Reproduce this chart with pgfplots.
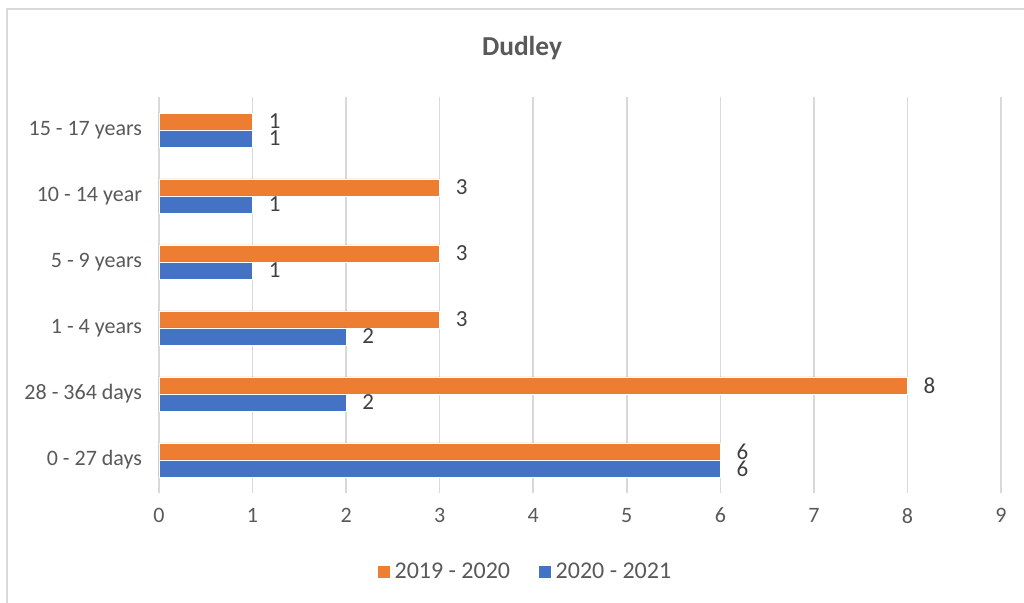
\documentclass[border=0pt]{standalone}
\usepackage{fontspec}
\setmainfont{Carlito}
\usepackage{pgfplots}
\pgfplotsset{compat=1.18}
\definecolor{orng}{HTML}{ED7D31}
\definecolor{blu}{HTML}{4472C4}
\definecolor{gridc}{HTML}{D9D9D9}
\definecolor{txt}{HTML}{595959}
\definecolor{lbl}{HTML}{404040}
\begin{document}
\begin{tikzpicture}
\useasboundingbox (0,0) rectangle (512pt,301.5pt);
% light frame of the chart area (only left and top visible)
\draw[gridc, line width=0.8pt] (3.5pt,0) -- (3.5pt,297pt) -- (512pt,297pt);
\begin{axis}[
    at={(79.5pt,55pt)}, anchor=south west,
    scale only axis,
    width=421pt, height=198pt,
    xbar,
    bar width=8.5pt,
    xmin=0, xmax=9,
    ymin=-0.5, ymax=5.5,
    xtick={0,...,9},
    ytick={0,...,5},
    yticklabels={0 - 27 days,28 - 364 days,1 - 4 years,5 - 9 years,10 - 14 year,15 - 17 years},
    axis line style={draw=none},
    major tick length=0pt,
    xmajorgrids,
    grid style={gridc, line width=0.8pt},
    tick label style={font=\fontsize{11pt}{13pt}\selectfont, text=txt},
    xticklabel style={yshift=-4pt},
    yticklabel style={xshift=-5pt},
    /pgf/number format/assume math mode=true,
    nodes near coords,
    nodes near coords style={font=\fontsize{11.5pt}{13pt}\selectfont, text=lbl,
        anchor=west, inner sep=0pt, xshift=8pt},
    legend style={at={(0.436,-0.1995)}, anchor=center, draw=none,
        legend columns=-1, font=\fontsize{12pt}{14pt}\selectfont, text=txt,
        /tikz/every even column/.append style={column sep=12pt}},
    legend image code/.code={\fill[#1] (0pt,-3.25pt) rectangle (6.5pt,3.25pt);},
]
\addplot[fill=orng, draw=white, line width=0.3pt, bar shift=4.25pt] coordinates {
    (6,0) (8,1) (3,2) (3,3) (3,4) (1,5)
};
\addlegendentry{2019 - 2020}
\addplot[fill=blu, draw=white, line width=0.3pt, bar shift=-4.25pt] coordinates {
    (6,0) (2,1) (2,2) (1,3) (1,4) (1,5)
};
\addlegendentry{2020 - 2021}
\end{axis}
\node[font=\bfseries\fontsize{13.7pt}{16pt}\selectfont, text=txt] at (261pt,277.5pt) {Dudley};
\end{tikzpicture}
\end{document}
